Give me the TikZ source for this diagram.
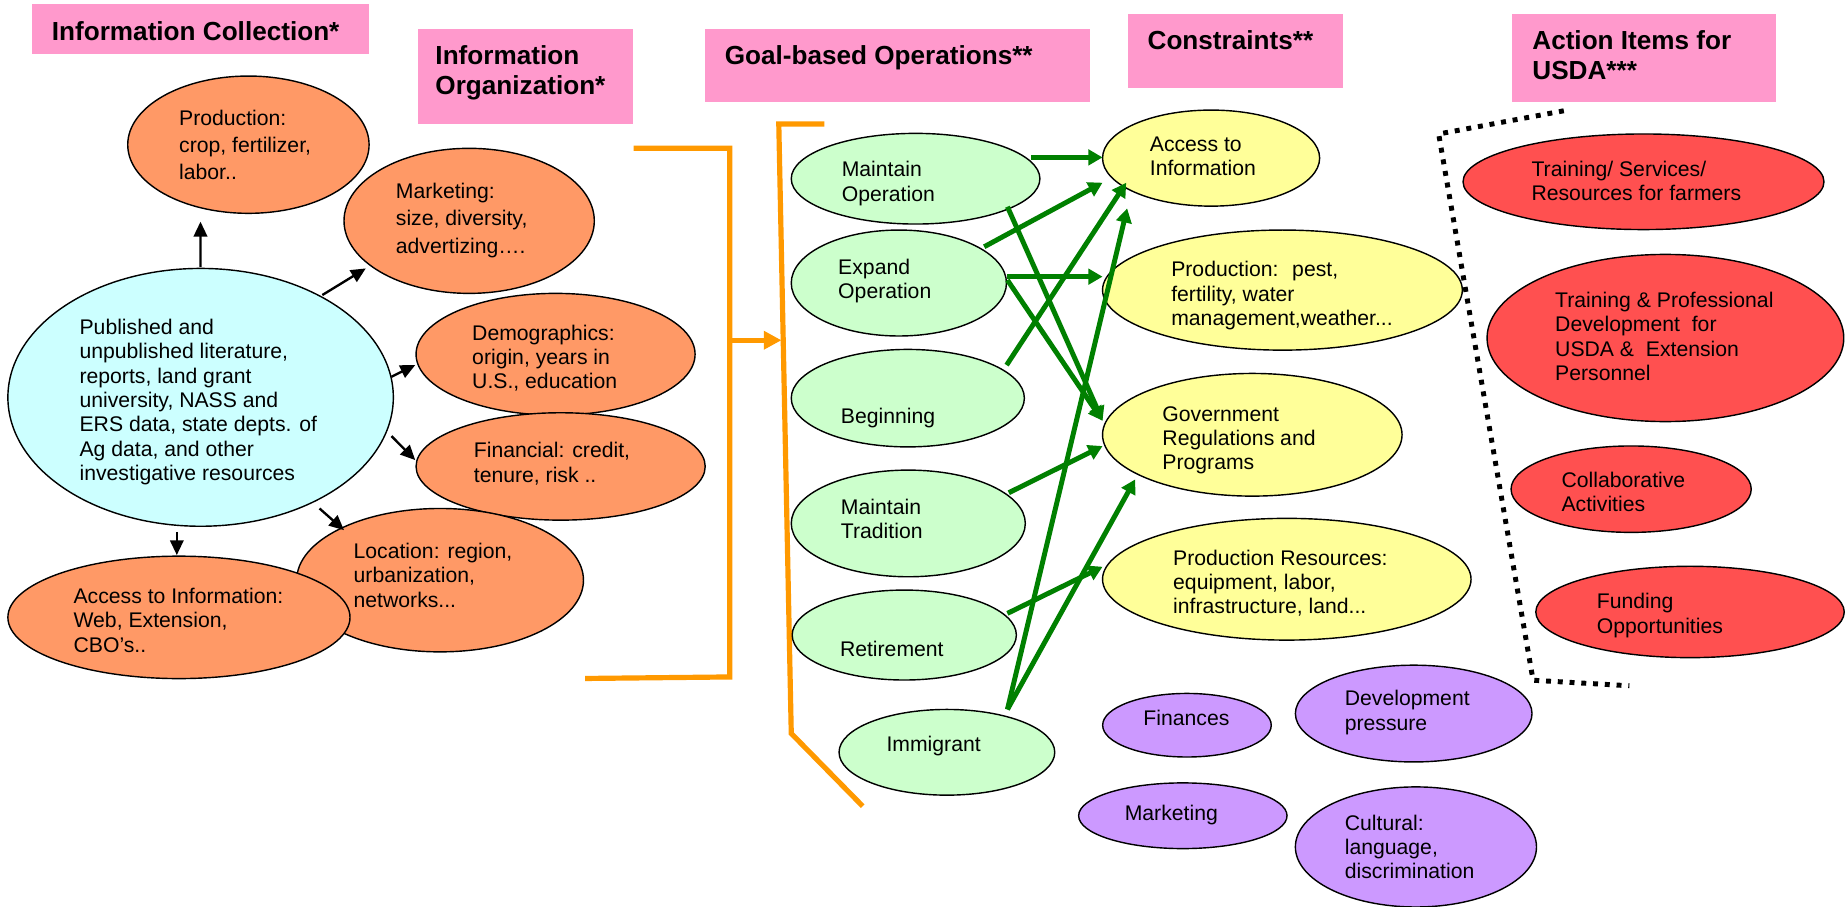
\documentclass[tikz,border=0pt]{standalone}
\usepackage{fontspec}
\setmainfont{Liberation Sans}
\usetikzlibrary{shapes.geometric,arrows.meta}
\definecolor{cpink}{HTML}{FF99CC}
\definecolor{corange}{HTML}{FF9966}
\definecolor{cblue}{HTML}{CCFFFF}
\definecolor{cgreen}{HTML}{CCFFCC}
\definecolor{cyellow}{HTML}{FFFF99}
\definecolor{cpurple}{HTML}{CC99FF}
\definecolor{cred}{HTML}{FF5050}
\definecolor{darrow}{HTML}{008000}
\definecolor{cline}{HTML}{FF9900}
\begin{document}
\begin{tikzpicture}[x=0.5pt,y=-0.5pt,
  ell/.style={ellipse, draw=black, line width=0.6pt, inner sep=0pt},
  hdr/.style={rectangle, fill=cpink, inner sep=0pt, anchor=north west},
  txt/.style={anchor=north west, inner sep=0pt, align=left, font=\fontsize{9}{10.35}\selectfont},
  htxt/.style={anchor=north west, inner sep=0pt, align=left, font=\bfseries\fontsize{11.1}{13}\selectfont},
  barrow/.style={-{Triangle[length=6.3pt,width=5.7pt]}, line width=1pt, black},
  garrow/.style={-{Triangle[length=6pt,width=6.5pt]}, line width=2.1pt, darrow},
  oline/.style={cline, line width=2.2pt},
  dotl/.style={black, line width=2.1pt, dash pattern=on 2.1pt off 2.9pt},
]
\useasboundingbox[fill=white] (0,0) rectangle (1568,770);

% ---------- headers ----------
\node[hdr, minimum width=143.1pt, minimum height=21.1pt] (hIC) at (27.2,3.4) {};
\node[htxt] (tIC) at (43.7,17.5) {Information Collection*};
\node[hdr, minimum width=91.55pt, minimum height=40.35pt] (hIO) at (354.4,24.1) {};
\node[htxt] (tIO) at (369.5,38.2) {Information\\Organization*};
\node[hdr, minimum width=163.45pt, minimum height=31.15pt] (hGO) at (598.2,24.1) {};
\node[htxt] (tGO) at (615.2,38.2) {Goal-based Operations**};
\node[hdr, minimum width=91.6pt, minimum height=31.3pt] (hC) at (957.4,11.9) {};
\node[htxt] (tC) at (974.4,25.4) {Constraints**};
\node[hdr, minimum width=111.95pt, minimum height=37.25pt] (hA) at (1283.8,11.9) {};
\node[htxt] (tA) at (1301.2,25.4) {Action Items for\\USDA***};

% ---------- information collection ----------
\node[ell, fill=cblue, minimum width=163.7pt, minimum height=109.5pt] (pub) at (170.4,337.5) {};
\node[txt] (tpub) at (67.2,270.6) {Published and\\unpublished literature,\\reports, land grant\\university, NASS and\\ERS data, state depts. of\\Ag data, and other\\investigative resources};
\node[ell, fill=corange, minimum width=102.5pt, minimum height=58.3pt] (prod) at (211,122.9) {};
\node[txt, font=\fontsize{9}{11.5}\selectfont] (tprod) at (151.8,93.3) {Production:\\crop, fertilizer,\\labor..};
\node[ell, fill=corange, minimum width=106.3pt, minimum height=61.6pt] (mkt) at (398.5,187.6) {};
\node[txt, font=\fontsize{9}{11.7}\selectfont] (tmkt) at (335.9,155) {Marketing:\\size, diversity,\\advertizing….};
\node[ell, fill=corange, minimum width=118.5pt, minimum height=51.7pt] (demo) at (471.9,300.9) {};
\node[txt] (tdemo) at (400.7,275.4) {Demographics:\\origin, years in\\U.S., education};
\node[ell, fill=corange, minimum width=122.8pt, minimum height=45.6pt] (fin) at (476.2,396.2) {};
\node[txt] (tfin) at (402.1,375.4) {Financial: credit,\\tenure, risk ..};
\node[ell, fill=corange, minimum width=121.8pt, minimum height=60.9pt] (loc) at (373.8,492.8) {};
\node[txt] (tloc) at (300,460.9) {Location: region,\\urbanization,\\networks...};
\node[ell, fill=corange, minimum width=145.3pt, minimum height=52pt] (acc) at (152,524.4) {};
\node[txt] (tacc) at (62.1,499.1) {Access to Information:\\Web, Extension,\\CBO's..};

\draw[barrow] ([shift={(-0.1,-110.9)}]pub.center) -- ([shift={(-40.7,65.4)}]prod.center);
\draw[barrow] ([shift={(103.4,-86.9)}]pub.center) -- ([shift={(-87.8,40.4)}]mkt.center);
\draw[barrow] ([shift={(162.1,-17.5)}]pub.center) -- ([shift={(-119.2,9.2)}]demo.center);
\draw[barrow] ([shift={(162.1,32.9)}]pub.center) -- ([shift={(-123.5,-5.4)}]fin.center);
\draw[barrow] ([shift={(101,94.4)}]pub.center) -- ([shift={(-81.6,-42.5)}]loc.center);
\draw[barrow] ([shift={(-20.2,114.2)}]pub.center) -- ([shift={(-1.8,-52.9)}]acc.center);

% ---------- orange brackets ----------
\coordinate (b1a) at (538.3,126);
\coordinate (b1b) at (619.8,126);
\coordinate (b1m) at (619.8,289);
\coordinate (b1c) at (619.8,575);
\coordinate (b1d) at (497,576.3);
\coordinate (b2a) at (700.2,105.4);
\coordinate (b2b) at (661.5,105.4);
\coordinate (b2m) at (663.8,289);
\coordinate (b2c) at (672.1,623);
\coordinate (b2d) at (732.8,684.8);
\draw[oline, line join=miter] (b1a) -- (b1b) -- (b1c) -- (b1d);
\draw[oline, line join=miter] (b2a) -- (b2b) -- (b2c) -- (b2d);
\draw[oline, -{Triangle[length=7.5pt,width=7.5pt]}] (b1m) -- (b2m);

% ---------- goal based operations ----------
\node[ell, fill=cgreen, minimum width=105.6pt, minimum height=38.5pt] (mo) at (777.7,151.8) {};
\node[txt] (tmo) at (714.6,136.6) {Maintain\\Operation};
\node[ell, fill=cgreen, minimum width=91.4pt, minimum height=45pt] (eo) at (763.5,240.4) {};
\node[txt] (teo) at (711.6,219.6) {Expand\\Operation};
\node[ell, fill=cgreen, minimum width=99pt, minimum height=41.4pt] (bg) at (771.1,338.2) {};
\node[txt] (tbg) at (713.9,346.2) {Beginning};
\node[ell, fill=cgreen, minimum width=99.4pt, minimum height=45.3pt] (mt) at (771.5,444.6) {};
\node[txt] (tmt) at (713.9,423.5) {Maintain\\Tradition};
\node[ell, fill=cgreen, minimum width=95.2pt, minimum height=38.2pt] (rt) at (768.1,539.4) {};
\node[txt] (trt) at (713.1,544.4) {Retirement};
\node[ell, fill=cgreen, minimum width=91.6pt, minimum height=36.4pt] (im) at (804.3,639) {};
\node[txt] (tim) at (752.6,624.5) {Immigrant};

% ---------- constraints ----------
\node[ell, fill=cyellow, minimum width=92.2pt, minimum height=40.8pt] (ya) at (1028.7,134.3) {};
\node[txt] (tya) at (976.3,115.9) {Access to\\Information};
\node[ell, fill=cyellow, minimum width=152.8pt, minimum height=51pt] (yp) at (1089.3,246.4) {};
\node[txt] (typ) at (994.5,221.6) {Production:~ pest,\\fertility, water\\management,weather...};
\node[ell, fill=cyellow, minimum width=127.2pt, minimum height=52.1pt] (yg) at (1063.7,369.3) {};
\node[txt] (tyg) at (987,344.8) {Government\\Regulations and\\Programs};
\node[ell, fill=cyellow, minimum width=156.5pt, minimum height=51.7pt] (yr) at (1093,492) {};
\node[txt] (tyr) at (996.1,466.5) {Production Resources:\\equipment, labor,\\infrastructure, land...};

\node[ell, fill=cpurple, minimum width=71.6pt, minimum height=27pt] (pf) at (1008.2,616) {};
\node[txt] (tpf) at (970.8,603.1) {Finances};
\node[ell, fill=cpurple, minimum width=100.5pt, minimum height=41.1pt] (pd) at (1200.8,606.1) {};
\node[txt] (tpd) at (1141.9,586.1) {Development\\pressure};
\node[ell, fill=cpurple, minimum width=88.5pt, minimum height=27.9pt] (pm) at (1004.7,692.9) {};
\node[txt] (tpm) at (955,683.2) {Marketing};
\node[ell, fill=cpurple, minimum width=102.4pt, minimum height=51pt] (pc) at (1202.7,719.4) {};
\node[txt] (tpc) at (1141.9,691.7) {Cultural:\\language,\\discrimination};

% ---------- green connectors ----------
\draw[garrow] ([shift={(98.1,-18.1)}]mo.center) -- ([shift={(-92.2,-0.6)}]ya.center);
\draw[garrow] ([shift={(72.5,-30.8)}]eo.center) -- ([shift={(-92.2,20.9)}]ya.center);
\draw[garrow] ([shift={(92.2,-5.4)}]eo.center) -- ([shift={(-152.8,-11.4)}]yp.center);
\draw[garrow] ([shift={(92.2,-2.5)}]eo.center) -- ([shift={(-127.2,-11.9)}]yg.center);
\draw[garrow] ([shift={(78,23.8)}]mo.center) -- ([shift={(-127.2,-11.9)}]yg.center);
\draw[garrow] ([shift={(83.9,-28.1)}]bg.center) -- ([shift={(-72.1,20.9)}]ya.center);
\draw[garrow] ([shift={(51.4,-36.4)}]im.center) -- ([shift={(-71.3,42.7)}]ya.center);
\draw[garrow] ([shift={(85.4,-26.1)}]mt.center) -- ([shift={(-127.2,9.6)}]yg.center);
\draw[garrow] ([shift={(87.6,-18.4)}]rt.center) -- ([shift={(-156.5,-10.6)}]yr.center);
\draw[garrow] ([shift={(51.4,-36.4)}]im.center) -- ([shift={(-99.5,37.9)}]yg.center);

% ---------- action items ----------
\coordinate (d1) at (1328.3,94.1);
\coordinate (d2) at (1222,113.8);
\coordinate (d3) at (1302.2,577.8);
\coordinate (d4) at (1384,582.5);
\draw[dotl] (d1) -- (d2) -- (d3) -- (d4);

\node[ell, fill=cred, minimum width=153.3pt, minimum height=40.6pt] (r1) at (1396,154.4) {};
\node[txt] (tr1) at (1300.5,136.3) {Training/ Services/\\Resources for farmers};
\node[ell, fill=cred, minimum width=151.5pt, minimum height=71pt] (r2) at (1414.6,287.1) {};
\node[txt] (tr2) at (1320.6,247.6) {Training \& Professional\\Development~ for\\USDA \&~ Extension\\Personnel};
\node[ell, fill=cred, minimum width=102pt, minimum height=36.7pt] (r3) at (1385.5,415.5) {};
\node[txt] (tr3) at (1326,400.6) {Collaborative\\Activities};
\node[ell, fill=cred, minimum width=131pt, minimum height=38.8pt] (r4) at (1435.5,519.8) {};
\node[txt] (tr4) at (1356,503.6) {Funding\\Opportunities};
\end{tikzpicture}
\end{document}
